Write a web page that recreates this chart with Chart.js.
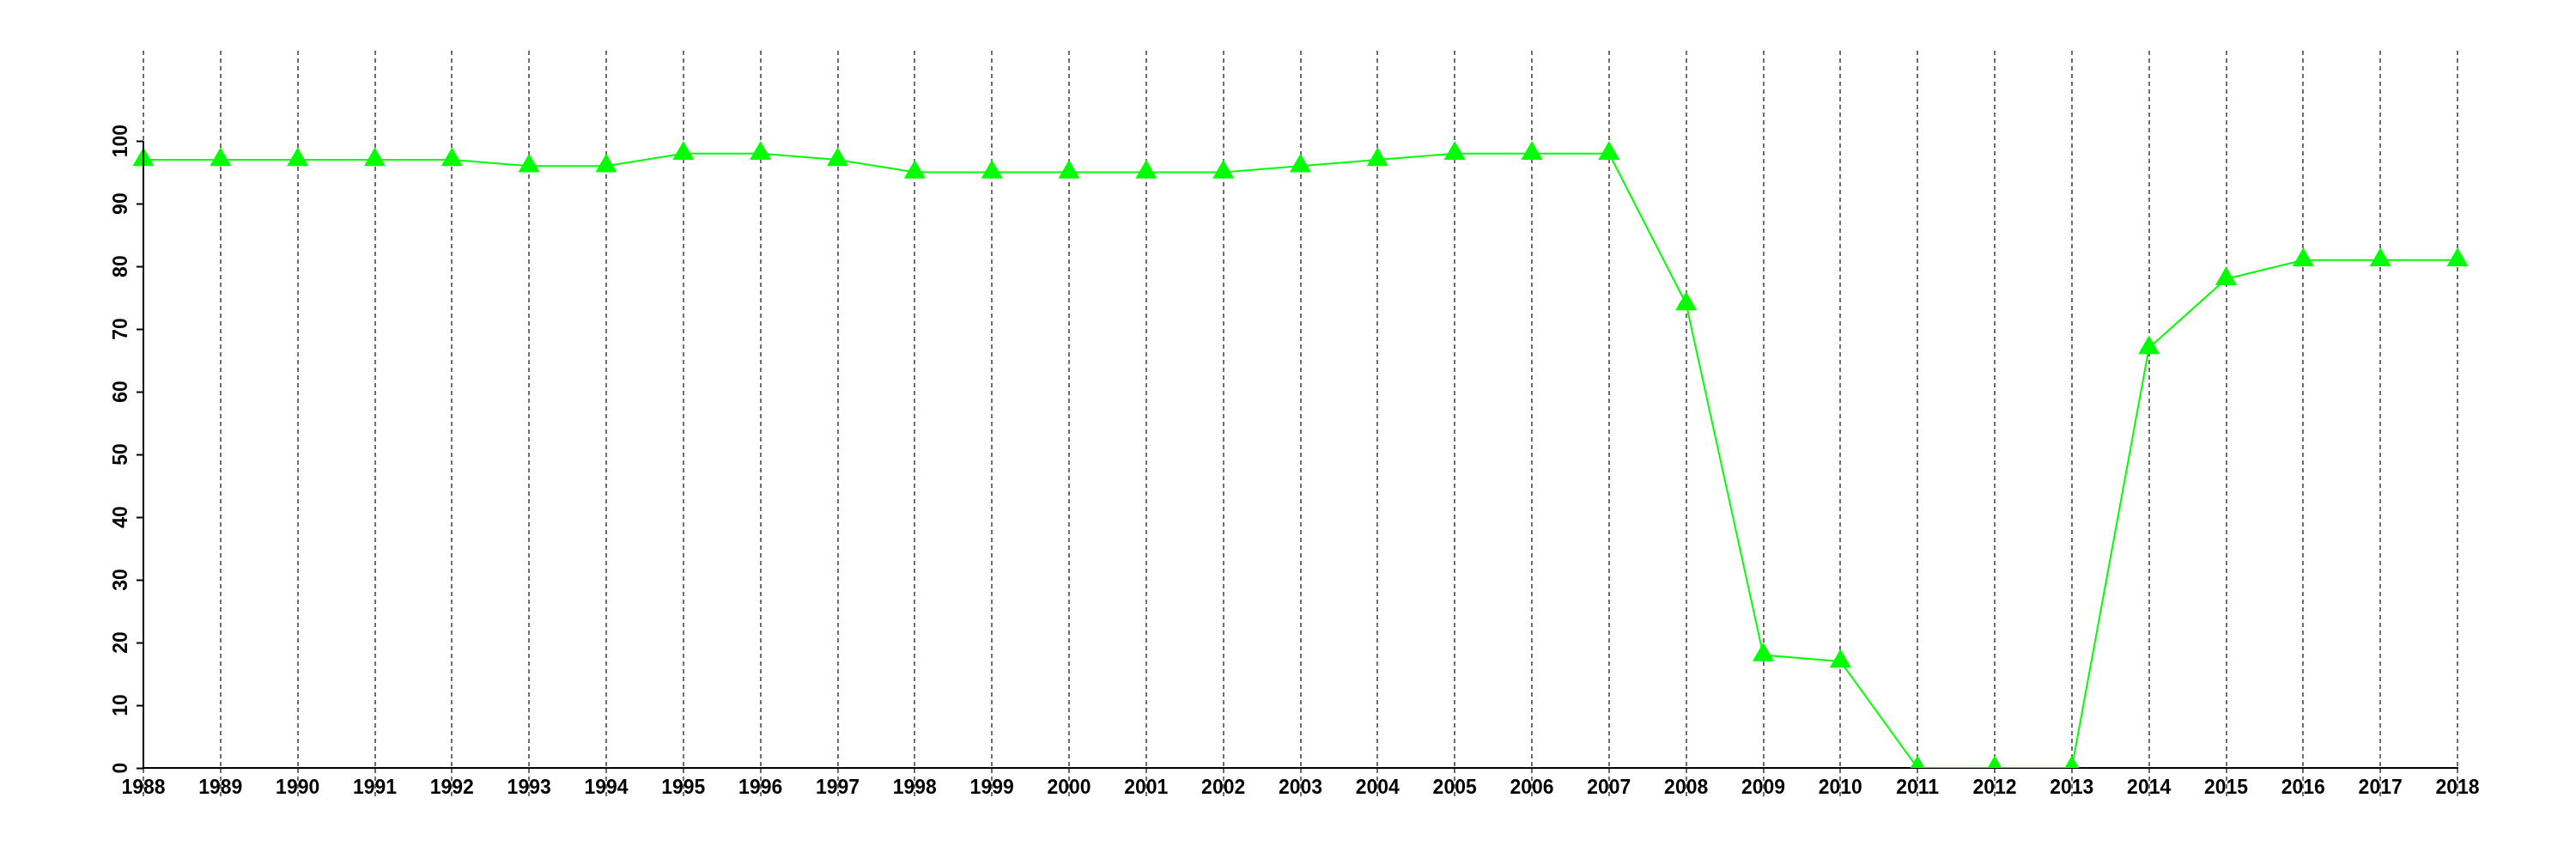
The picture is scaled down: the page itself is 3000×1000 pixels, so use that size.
<!DOCTYPE html>
<html>
<head>
    <meta charset="UTF-8">
    <script src="https://cdn.jsdelivr.net/npm/chart.js"></script>
    <style>
        body { margin: 0; background: #fff; }
        .chart-container { width: 3000px; height: 1000px; }
    </style>
</head>
<body>
    <div class="chart-container">
        <canvas id="lineChart"></canvas>
    </div>

    <script>
        // years on the x axis
        const years = ['1988', '1989', '1990', '1991', '1992', '1993', '1994', '1995', '1996', '1997',
                       '1998', '1999', '2000', '2001', '2002', '2003', '2004', '2005', '2006', '2007',
                       '2008', '2009', '2010', '2011', '2012', '2013', '2014', '2015', '2016', '2017', '2018'];
        // values
        const values = [97, 97, 97, 97, 97, 96, 96, 98, 98, 97,
                        95, 95, 95, 95, 95, 96, 97, 98, 98, 98,
                        74, 18, 17, 0, 0, 0, 67, 78, 81, 81, 81];
        const yTicks = [0, 10, 20, 30, 40, 50, 60, 70, 80, 90, 100];

        // y axis line only runs from 0 to 100, like the original
        const yAxisLine = {
            id: 'yAxisLine',
            afterDatasetsDraw(chart) {
                const ctx = chart.ctx;
                const y = chart.scales.y;
                const x = chart.chartArea.left;
                ctx.save();
                ctx.strokeStyle = '#000';
                ctx.lineWidth = 2;
                ctx.beginPath();
                ctx.moveTo(x, y.getPixelForValue(yTicks[0]));
                ctx.lineTo(x, y.getPixelForValue(yTicks[yTicks.length - 1]));
                ctx.stroke();
                ctx.restore();
            }
        };

        const ctx = document.getElementById('lineChart').getContext('2d');
        const lineChart = new Chart(ctx, {
            type: 'line',
            data: {
                labels: years,
                datasets: [{
                    data: values,
                    borderColor: '#00ff00',
                    backgroundColor: '#00ff00',
                    borderWidth: 2,
                    pointStyle: 'triangle',
                    pointRadius: 14.5,
                    pointBorderWidth: 0,
                    pointBackgroundColor: '#00ff00',
                    tension: 0
                }]
            },
            options: {
                responsive: true,
                maintainAspectRatio: false,
                animation: false,
                layout: { padding: { top: 59, right: 138, left: 0, bottom: 0 } },
                plugins: {
                    legend: { display: false },
                    tooltip: { enabled: false }
                },
                scales: {
                    x: {
                        offset: false,
                        afterFit: s => { s.height = 106; },
                        grid: {
                            color: '#6e6e6e',
                            lineWidth: 2,
                            drawTicks: true,
                            tickLength: 33,
                            tickColor: '#6e6e6e',
                            tickWidth: 2,
                            tickBorderDash: [5, 4]
                        },
                        border: { display: true, color: '#000', width: 2, dash: [5, 4] },
                        ticks: {
                            color: '#000',
                            maxRotation: 0,
                            autoSkip: false,
                            padding: -23,
                            font: { family: 'Liberation Sans', size: 23, weight: 'bold' }
                        }
                    },
                    y: {
                        min: 0,
                        max: 114.4,
                        afterFit: s => { s.width = 167; },
                        afterBuildTicks: s => { s.ticks = yTicks.map(v => ({ value: v })); },
                        grid: {
                            drawOnChartArea: false,
                            drawTicks: true,
                            tickLength: 8,
                            tickColor: '#000',
                            tickWidth: 2
                        },
                        border: { display: false },
                        ticks: {
                            color: '#000',
                            minRotation: 90,
                            maxRotation: 90,
                            crossAlign: 'center',
                            padding: -2,
                            font: { family: 'Liberation Sans', size: 23, weight: 'bold' }
                        }
                    }
                }
            },
            plugins: [yAxisLine]
        });
    </script>
</body>
</html>
